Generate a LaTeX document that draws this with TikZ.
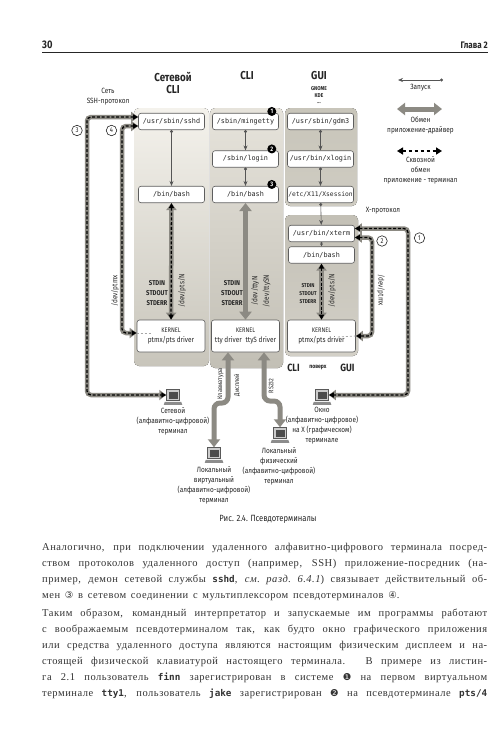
\documentclass[tikz,border=0pt]{standalone}
\usepackage{fontspec}
\setmainfont{Liberation Serif}[LetterSpace=5]
\newfontfamily\cond{Fira Sans}[FakeStretch=0.85]
\newfontfamily\dmono{DejaVu Sans Mono}
\newfontfamily\dsans{DejaVu Sans}
\usetikzlibrary{arrows.meta,calc,shadings}
\definecolor{txt}{HTML}{262626}
\definecolor{boxc}{HTML}{5E5E5E}
\definecolor{thk}{HTML}{8C8A83}
\definecolor{lnc}{HTML}{555555}
\definecolor{bodyc}{HTML}{333333}
\definecolor{netT}{HTML}{F4F2EC}
\definecolor{netB}{HTML}{C8C5BB}
\definecolor{cliT}{HTML}{E6E3DB}
\definecolor{cliB}{HTML}{C2BFB5}
\definecolor{guiT}{HTML}{C8C5BA}
\definecolor{guiB}{HTML}{CFCCC2}
\definecolor{gu2T}{HTML}{C3C0B6}
\definecolor{gu2B}{HTML}{D3D0C7}
\newcommand\jl[1]{\hbox to 445pt{\spaceskip=0.3em plus 1fil\relax #1}}
\newcommand\cmd[1]{{\dmono\bfseries\fontsize{9.3}{12}\selectfont #1}}
\newcommand\cdig[1]{{\dsans\fontsize{9.5}{12}\selectfont #1}}
\tikzset{
  box/.style={draw=boxc, fill=white, rounded corners=2.5pt, minimum width=66pt, minimum height=16.5pt, inner sep=0pt, line width=0.6pt, text=txt, font=\dmono\fontsize{6.8}{8}\selectfont},
  kbox/.style={box, minimum width=68pt, minimum height=32pt, align=center, font=\cond\fontsize{7.6}{10.5}\selectfont},
  lbl/.style={font=\cond\fontsize{7.6}{10}\selectfont, text=txt, align=center, inner sep=0pt},
  ttl/.style={font=\cond\bfseries\fontsize{11.5}{13}\selectfont, text=txt, inner sep=0pt},
  std/.style={font=\cond\bfseries\fontsize{7}{10}\selectfont, text=txt, align=center, inner sep=0pt},
  rlbl/.style={font=\cond\fontsize{7.6}{9}\selectfont, text=txt, inner sep=0pt},
  launch/.style={draw=lnc, line width=0.6pt, {Circle[length=3pt]}-{Stealth[length=5pt,width=4pt]}},
  xchg/.style={draw=thk, line width=5pt, {Triangle[length=8pt,width=12pt]}-{Triangle[length=8pt,width=12pt]}},
  pass/.style={draw=black, line width=1.3pt, dash pattern=on 3pt off 1.8pt,
    arrows={Triangle[length=5pt,width=5pt]-Triangle[length=5pt,width=5pt]},
    preaction={draw=thk, line width=4.5pt, solid, arrows={Triangle[length=7pt,width=10pt]-Triangle[length=7pt,width=10pt]}}},
  dashar/.style={draw=black, line width=1.5pt, dash pattern=on 3.5pt off 2.5pt, arrows={Triangle[length=6pt,width=7pt]-Triangle[length=6pt,width=7pt]}},
  num/.style={circle, fill=black, text=white, inner sep=0pt, minimum size=9pt, font=\cond\bfseries\fontsize{6.5}{7}\selectfont},
  cnum/.style={circle, draw=txt, fill=white, line width=0.6pt, inner sep=0pt, minimum size=10.5pt, text=txt, font=\cond\fontsize{7}{8}\selectfont},
  termic/.style={minimum width=13pt, minimum height=11pt, inner sep=0pt, draw=black!65, fill=black!20, line width=0.5pt,
    path picture={\fill[black!70] ([shift={(2pt,2pt)}]path picture bounding box.south west) rectangle ([shift={(-2pt,-2pt)}]path picture bounding box.north east);}},
  tbase/.style={fill=black!45},
  small/.style={font=\cond\bfseries\fontsize{5.6}{6.5}\selectfont, text=txt, inner sep=0pt}
}
\begin{document}
\begin{tikzpicture}[x=1pt,y=-1pt]
\useasboundingbox (0,0) rectangle (500,734);
\fill[white] (0,0) rectangle (500,734);

% header
\node[anchor=west, font=\cond\bfseries\fontsize{11}{12}\selectfont, text=txt, inner sep=0pt] (pg) at (42,45) {30};
\node[anchor=east, font=\cond\bfseries\fontsize{9.5}{11}\selectfont, text=txt, inner sep=0pt] (chap) at (488,45) {Глава 2};
\coordinate (rl) at (42,52.5);
\coordinate (rr) at (488,52.5);
\draw[line width=1pt, txt] (rl) -- (rr);

% column backgrounds
\fill[rounded corners=5pt, top color=netT, bottom color=netB] (134,108) rectangle (209,366);
\fill[rounded corners=5pt, top color=cliT, bottom color=cliB] (210,108) rectangle (283,368);
\fill[rounded corners=5pt, top color=guiT, bottom color=guiB] (285,108) rectangle (357,206);
\fill[rounded corners=5pt, top color=gu2T, bottom color=gu2B] (285,215) rectangle (358,356);

% titles
\node[ttl] (tnet1) at (173,77) {Сетевой};
\node[ttl] (tnet2) at (173,90) {CLI};
\node[ttl] (tcli) at (247,76) {CLI};
\node[ttl] (tgui) at (319,76) {GUI};
\node[small] (tgn) at (319,88.5) {GNOME};
\node[small] (tkde) at (319,95.5) {KDE};
\node[small] (tdots) at (319,103) {...};
\node[lbl] (tssh) at (108,96.5) {Сеть\\SSH-протокол};

% legend
\coordinate (lgA) at (398,80); \coordinate (lgB) at (443,80);
\draw[launch] (lgB) -- (lgA);
\node[lbl] (lg1) at (420.5,88) {Запуск};
\coordinate (lgC) at (397,109); \coordinate (lgD) at (442,109);
\draw[xchg] (lgC) -- (lgD);
\node[lbl] (lg2) at (420.5,125) {Обмен\\приложение-драйвер};
\coordinate (lgE) at (397,151); \coordinate (lgF) at (442,151);
\draw[dashar] (lgE) -- (lgF);
\node[lbl] (lg3) at (420.5,170) {Сквозной\\обмен\\приложение - терминал};

% boxes
\node[box] (sshd) at (171.5,121.5) {/usr/sbin/sshd};
\node[box] (bashN) at (171.5,194.5) {/bin/bash};
\node[box] (ming) at (245.5,121.5) {/sbin/mingetty};
\node[box] (login) at (245.5,159) {/sbin/login};
\node[box] (bashC) at (245.5,194.5) {/bin/bash};
\node[box] (gdm) at (320.5,121.5) {/usr/sbin/gdm3};
\node[box] (xlogin) at (320.5,159) {/usr/bin/xlogin};
\node[box, font=\dmono\fontsize{6.3}{8}\selectfont] (xsess) at (320.5,194.5) {/etc/X11/Xsession};
\node[box] (xterm) at (321.5,233.5) {/usr/bin/xterm};
\node[box] (bashG) at (321.5,255) {/bin/bash};
\node[kbox] (kleft) at (171,336) {{\fontsize{6.6}{8}\selectfont KERNEL}\\ptmx/pts driver};
\node[kbox] (kcli) at (245.5,336) {{\fontsize{6.6}{8}\selectfont KERNEL}\\tty driver\enspace ttyS driver};
\node[kbox] (kgui) at (321.5,336) {{\fontsize{6.6}{8}\selectfont KERNEL}\\ptmx/pts driver};

% faint continuations inside kernel boxes
\coordinate (fk1) at (152,333); \coordinate (fk2) at (337,337);
\draw[black!35, line width=0.8pt, dash pattern=on 2pt off 2pt] ([yshift=3pt]kleft.west) -- (fk1);
\draw[black!35, line width=0.8pt, dash pattern=on 2pt off 2pt] (kgui.east) -- (fk2);

% numbered circles
\node[num] (n1) at ([xshift=-7pt,yshift=1.5pt]ming.north east) {1};
\node[num] (n2) at ([xshift=-7pt,yshift=1.5pt]login.north east) {2};
\node[num] (n3) at ([xshift=-7pt,yshift=1.5pt]bashC.north east) {3};

% launch arrows
\draw[launch] (sshd) -- (bashN);
\draw[launch] (ming) -- (login);
\draw[launch] (login) -- (bashC);
\draw[launch] (gdm) -- (xlogin);
\draw[launch] (xlogin) -- (xsess);
\draw[launch] (xsess) -- (xterm);
\draw[draw=lnc, line width=0.6pt, {Circle[length=2pt]}-{Stealth[length=3pt,width=3pt]}] (xterm) -- (bashG);

% exchange bash <-> kernel
\draw[pass] (bashN) -- (kleft);
\draw[xchg] (bashC) -- (kcli);
\draw[pass] (bashG) -- (kgui);

% std labels
\node[std] (stdN) at (157,293) {STDIN\\STDOUT\\STDERR};
\node[std] (stdC) at (232,293) {STDIN\\STDOUT\\STDERR};
\node[std, font=\cond\bfseries\fontsize{5.6}{7.7}\selectfont] (stdG) at (308,293.5) {STDIN\\STDOUT\\STDERR};
\node[rlbl, rotate=90] (ptsN) at (182,291) {/dev/pts/N};
\node[rlbl, rotate=90] (ttyN) at (255,291) {/dev/ttyN};
\node[rlbl, rotate=90] (ttySN) at (266.5,291) {/dev/ttySN};
\node[rlbl, rotate=90] (ptsG) at (332,291) {/dev/pts/N};

% terminals
\node[termic] (netterm) at (173,395) {};
\node[termic] (winterm) at (322,395) {};
\node[termic] (locvirt) at (214,453) {};
\node[termic] (locphys) at (280,433) {};
\foreach \t in {netterm,winterm,locvirt,locphys}{
  \fill[tbase] ($(\t.south west)+(-1.5,1)$) -- ($(\t.south east)+(1.5,1)$) -- ($(\t.south east)+(2.5,4)$) -- ($(\t.south west)+(-2.5,4)$) -- cycle;
}
\node[lbl, anchor=north] (netlbl) at (173,407) {Сетевой\\(алфавитно-цифровой)\\терминал};
\node[lbl, anchor=north] (winlbl) at (322,407) {Окно\\(алфавитно-цифровое)\\на X (графическом)\\терминале};
\node[lbl, anchor=north] (virtlbl) at (214,466) {Локальный\\виртуальный\\(алфавитно-цифровой)\\терминал};
\node[lbl, anchor=north] (physlbl) at (279,447) {Локальный\\физический\\(алфавитно-цифровой)\\терминал};

% loops
\coordinate (c3) at (87,395);
\coordinate (c4) at (122,333);
\coordinate (c1) at (408,395);
\coordinate (c2) at (372,336);
\draw[pass, rounded corners=4pt] ([yshift=4.5pt]sshd.west) -| (c3) -- (netterm);
\draw[pass, rounded corners=4pt] ([yshift=-4.5pt]sshd.west) -| (c4) -- ([yshift=3pt]kleft.west);
\draw[pass, rounded corners=4pt] ([yshift=5pt]xterm.east) -| (c1) -- (winterm);
\draw[pass, rounded corners=4pt] ([yshift=-4pt]xterm.east) -| (c2) -- (kgui.east);
\node[cnum] (m3) at (77,130.5) {3};
\node[cnum] (m4) at (111.5,130.5) {4};
\node[cnum] (m2) at (382,241) {2};
\node[cnum] (m1) at (419.5,238) {1};
\node[rlbl, rotate=90] (ptmxL) at (115,291) {/dev/ptmx};
\node[rlbl, rotate=-90] (ptmxR) at (381,290) {/dev/ptmx};
\node[lbl] (xproto) at (383,211) {X-протокол};

% CLI kernel to local terminals
\coordinate (kb1) at (214,403);
\coordinate (kb2) at (280,401);
\draw[xchg, rounded corners=6pt] ([xshift=-17.5pt]kcli.south) |- (kb1) -- (locvirt);
\draw[xchg, rounded corners=6pt] ([xshift=18.5pt]kcli.south) |- (kb2) -- (locphys);
\node[rlbl, rotate=90, font=\cond\fontsize{6.6}{8}\selectfont] (kbd) at (220.5,384) {Клавиатура};
\node[rlbl, rotate=90, font=\cond\fontsize{6.6}{8}\selectfont] (dsp) at (237,385) {Дисплей};
\node[rlbl, rotate=90, font=\cond\fontsize{6.6}{8}\selectfont] (rs) at (271,386) {RS232};

% CLI over GUI
\node[font=\cond\bfseries\fontsize{10.5}{12}\selectfont, text=txt, inner sep=0pt] (ocli) at (293.5,368) {CLI};
\node[font=\cond\bfseries\fontsize{6}{7}\selectfont, text=txt, inner sep=0pt] (oover) at (318,368) {поверх};
\node[font=\cond\bfseries\fontsize{10.5}{12}\selectfont, text=txt, inner sep=0pt] (ogui) at (347.5,368) {GUI};

% caption
\node[font=\cond\fontsize{9}{11}\selectfont, text=txt, inner sep=0pt] (cap) at (268,519) {Рис. 2.4. Псевдотерминалы};

% body text
\begin{scope}[every node/.style={anchor=base west, inner sep=0pt, text=bodyc, font=\fontsize{10.5}{12}\selectfont}]
\node (t1) at (42,550) {\jl{Аналогично, при подключении удаленного алфавитно-цифрового терминала посред-}};
\node (t2) at (42,566) {\jl{ством протоколов удаленного доступ (например, SSH) приложение-посредник (на-}};
\node (t3) at (42,582) {\jl{пример, демон сетевой службы \cmd{sshd}, {\itshape см.\ разд.\ 6.4.1}) связывает действительный об-}};
\node (t4) at (42,598) {\hbox{\spaceskip=0.45em plus 0.2em\relax мен \cdig{③} в сетевом соединении с мультиплексором псевдотерминалов \cdig{④}.}};
\node (t5) at (42,616) {\jl{Таким образом, командный интерпретатор и запускаемые им программы работают}};
\node (t6) at (42,632) {\jl{с воображаемым псевдотерминалом так, как будто окно графического приложения}};
\node (t7) at (42,648) {\jl{или средства удаленного доступа являются настоящим физическим дисплеем и на-}};
\node (t8) at (42,664) {\jl{стоящей физической клавиатурой настоящего терминала. В примере из листин-}};
\node (t9) at (42,680) {\jl{га 2.1 пользователь \cmd{finn} зарегистрирован в системе \cdig{❶} на первом виртуальном}};
\node (t10) at (42,696) {\jl{терминале \cmd{tty1}, пользователь \cmd{jake} зарегистрирован \cdig{❷} на псевдотерминале \cmd{pts/4}}};
\end{scope}
\end{tikzpicture}
\end{document}
